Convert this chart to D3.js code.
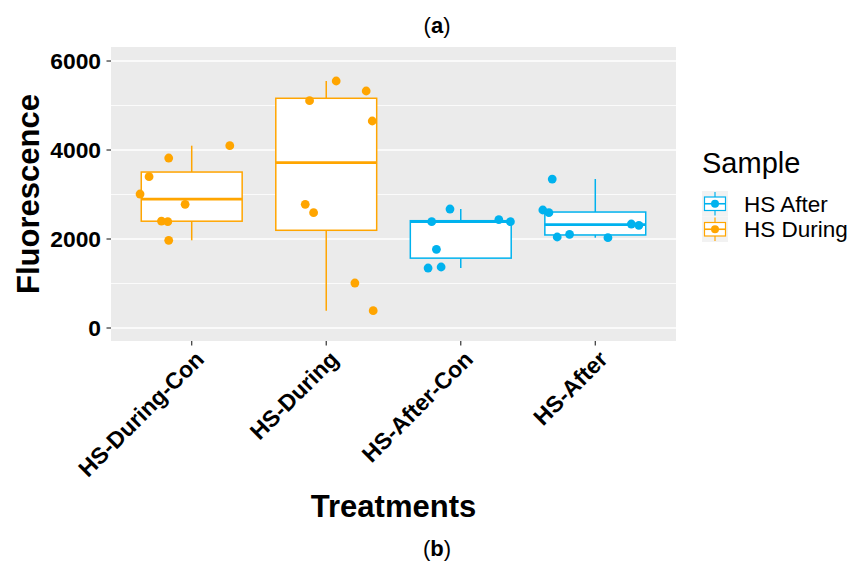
<!DOCTYPE html>
<html>
<head>
<meta charset="utf-8">
<title>Fluorescence boxplot</title>
<script src="https://d3js.org/d3.v7.min.js"></script>
<style>
body { margin: 0; background: #fff; }
text { font-family: "Liberation Sans", Arial, sans-serif; }
</style>
</head>
<body>
<div id="chart"></div>
<script>
// categories and sample group of each
var treatments = ["HS-During-Con", "HS-During", "HS-After-Con", "HS-After"];
var sampleOf = ["HS During", "HS During", "HS After", "HS After"];
var samples = ["HS After", "HS During"];
var yTicks = [0, 2000, 4000, 6000];

// fluorescence readings per treatment
var duringCon = [3011, 3400, 3820, 4097, 2780, 2404, 2389, 1971];
var during = [5551, 5326, 4652, 5108, 2780, 2591, 1011, 389];
var afterCon = [2389, 2674, 2434, 2389, 1769, 1348, 1371];
var after = [3348, 2652, 2591, 2045, 2106, 2029, 2337, 2308];

// horizontal jitter of each point, as a fraction of category spacing
var jitDuringCon = [-0.384, -0.317, -0.171, 0.283, -0.049, -0.225, -0.178, -0.171];
var jitDuring = [0.074, 0.297, 0.342, -0.124, -0.156, -0.094, 0.213, 0.349];
var jitAfterCon = [-0.216, -0.080, 0.283, 0.369, -0.181, -0.243, -0.146];
var jitAfter = [-0.320, -0.390, -0.345, -0.283, -0.191, 0.094, 0.268, 0.324];

var values = [duringCon, during, afterCon, after];
var jitters = [jitDuringCon, jitDuring, jitAfterCon, jitAfter];

var colors = { "HS After": "#00B2EE", "HS During": "#FFA500" };

var width = 856, height = 563;
var panel = { left: 111, right: 676, top: 47, bottom: 341 };

var svg = d3.select("#chart").append("svg")
  .attr("width", width)
  .attr("height", height);

var x = d3.scalePoint().domain(treatments).range([panel.left, panel.right]).padding(0.6);
var step = x.step();
var y = d3.scaleLinear().domain([-292, 6315]).range([panel.bottom, panel.top]);

// panel background + grid
svg.append("rect")
  .attr("x", panel.left).attr("y", panel.top)
  .attr("width", panel.right - panel.left).attr("height", panel.bottom - panel.top)
  .attr("fill", "#EBEBEB");

svg.selectAll(".minor")
  .data([1000, 3000, 5000])
  .enter().append("line")
  .attr("x1", panel.left).attr("x2", panel.right)
  .attr("y1", function(d) { return y(d); }).attr("y2", function(d) { return y(d); })
  .attr("stroke", "#fff").attr("stroke-width", 0.8);

svg.selectAll(".major")
  .data(yTicks)
  .enter().append("line")
  .attr("x1", panel.left).attr("x2", panel.right)
  .attr("y1", function(d) { return y(d); }).attr("y2", function(d) { return y(d); })
  .attr("stroke", "#fff").attr("stroke-width", 1.5);

// box stats
var stats = values.map(function(v, i) {
  var s = v.slice().sort(d3.ascending);
  var q1 = d3.quantile(s, 0.25), med = d3.quantile(s, 0.5), q3 = d3.quantile(s, 0.75);
  var iqr = q3 - q1;
  var lo = d3.min(s.filter(function(d) { return d >= q1 - 1.5 * iqr; }));
  var hi = d3.max(s.filter(function(d) { return d <= q3 + 1.5 * iqr; }));
  return { name: treatments[i], sample: sampleOf[i], q1: q1, med: med, q3: q3, lo: lo, hi: hi };
});

var bw = step * 0.75;
var boxes = svg.selectAll(".box")
  .data(stats)
  .enter().append("g");

boxes.append("line")
  .attr("x1", function(d) { return x(d.name); }).attr("x2", function(d) { return x(d.name); })
  .attr("y1", function(d) { return y(d.hi); }).attr("y2", function(d) { return y(d.q3); })
  .attr("stroke", function(d) { return colors[d.sample]; }).attr("stroke-width", 1.5);
boxes.append("line")
  .attr("x1", function(d) { return x(d.name); }).attr("x2", function(d) { return x(d.name); })
  .attr("y1", function(d) { return y(d.q1); }).attr("y2", function(d) { return y(d.lo); })
  .attr("stroke", function(d) { return colors[d.sample]; }).attr("stroke-width", 1.5);
boxes.append("rect")
  .attr("x", function(d) { return x(d.name) - bw / 2; })
  .attr("y", function(d) { return y(d.q3); })
  .attr("width", bw)
  .attr("height", function(d) { return y(d.q1) - y(d.q3); })
  .attr("fill", "#fff")
  .attr("stroke", function(d) { return colors[d.sample]; }).attr("stroke-width", 1.5);
boxes.append("line")
  .attr("x1", function(d) { return x(d.name) - bw / 2; }).attr("x2", function(d) { return x(d.name) + bw / 2; })
  .attr("y1", function(d) { return y(d.med); }).attr("y2", function(d) { return y(d.med); })
  .attr("stroke", function(d) { return colors[d.sample]; }).attr("stroke-width", 2.6);

// jittered points
var pts = [];
values.forEach(function(v, i) {
  v.forEach(function(val, j) {
    pts.push({ name: treatments[i], sample: sampleOf[i], value: val, jit: jitters[i][j] });
  });
});
svg.selectAll(".pt")
  .data(pts)
  .enter().append("circle")
  .attr("cx", function(d) { return x(d.name) + d.jit * step; })
  .attr("cy", function(d) { return y(d.value); })
  .attr("r", 4.4)
  .attr("fill", function(d) { return colors[d.sample]; });

// y axis
var yAxis = svg.append("g");
yAxis.selectAll("line")
  .data(yTicks)
  .enter().append("line")
  .attr("x1", panel.left - 4.5).attr("x2", panel.left)
  .attr("y1", function(d) { return y(d); }).attr("y2", function(d) { return y(d); })
  .attr("stroke", "#333").attr("stroke-width", 1.2);
yAxis.selectAll("text")
  .data(yTicks)
  .enter().append("text")
  .attr("x", panel.left - 10)
  .attr("y", function(d) { return y(d); })
  .attr("dy", "0.36em")
  .attr("text-anchor", "end")
  .attr("font-size", 22.8)
  .attr("font-weight", "bold")
  .attr("fill", "#000")
  .text(function(d) { return d; });

// x axis
var xAxis = svg.append("g");
xAxis.selectAll("line")
  .data(treatments)
  .enter().append("line")
  .attr("x1", function(d) { return x(d); }).attr("x2", function(d) { return x(d); })
  .attr("y1", panel.bottom).attr("y2", panel.bottom + 4.5)
  .attr("stroke", "#333").attr("stroke-width", 1.2);
xAxis.selectAll("text")
  .data(treatments)
  .enter().append("text")
  .attr("transform", function(d) { return "translate(" + (x(d) + 2) + "," + (panel.bottom + 8) + ") rotate(-45)"; })
  .attr("dy", "0.72em")
  .attr("text-anchor", "end")
  .attr("font-size", 23)
  .attr("font-weight", "bold")
  .attr("fill", "#000")
  .text(function(d) { return d; });

// axis titles
svg.append("text")
  .attr("transform", "translate(39," + ((panel.top + panel.bottom) / 2) + ") rotate(-90)")
  .attr("text-anchor", "middle")
  .attr("font-size", 31)
  .attr("font-weight", "bold")
  .text("Fluorescence");

svg.append("text")
  .attr("x", (panel.left + panel.right) / 2)
  .attr("y", 517)
  .attr("text-anchor", "middle")
  .attr("font-size", 31)
  .attr("font-weight", "bold")
  .text("Treatments");

// legend
var lg = svg.append("g").attr("transform", "translate(702,0)");
lg.append("text")
  .attr("x", 0).attr("y", 173)
  .attr("font-size", 29)
  .text("Sample");

var keys = lg.selectAll(".key")
  .data(samples)
  .enter().append("g")
  .attr("transform", function(d, i) { return "translate(0," + (191 + i * 25.5) + ")"; });
keys.append("rect")
  .attr("width", 26).attr("height", 25.5)
  .attr("fill", "#F2F2F2");
keys.append("line")
  .attr("x1", 13).attr("x2", 13).attr("y1", 1).attr("y2", 24.5)
  .attr("stroke", function(d) { return colors[d]; }).attr("stroke-width", 1.2);
keys.append("rect")
  .attr("x", 2.5).attr("y", 6).attr("width", 21).attr("height", 13.5)
  .attr("fill", "#fff")
  .attr("stroke", function(d) { return colors[d]; }).attr("stroke-width", 1.2);
keys.append("line")
  .attr("x1", 2.5).attr("x2", 23.5).attr("y1", 12.75).attr("y2", 12.75)
  .attr("stroke", function(d) { return colors[d]; }).attr("stroke-width", 1.6);
keys.append("circle")
  .attr("cx", 13).attr("cy", 12.75).attr("r", 4)
  .attr("fill", function(d) { return colors[d]; });
keys.append("text")
  .attr("x", 42).attr("y", 12.75)
  .attr("dy", "0.36em")
  .attr("font-size", 22.5)
  .text(function(d) { return d; });

// panel labels
svg.append("text")
  .attr("x", 437).attr("y", 33)
  .attr("text-anchor", "middle")
  .attr("font-family", "'Liberation Serif', 'DejaVu Serif', serif")
  .attr("font-size", 22)
  .html("(<tspan font-weight='bold'>a</tspan>)");

svg.append("text")
  .attr("x", 437).attr("y", 556)
  .attr("text-anchor", "middle")
  .attr("font-family", "'Liberation Serif', 'DejaVu Serif', serif")
  .attr("font-size", 22)
  .html("(<tspan font-weight='bold'>b</tspan>)");
</script>
</body>
</html>
